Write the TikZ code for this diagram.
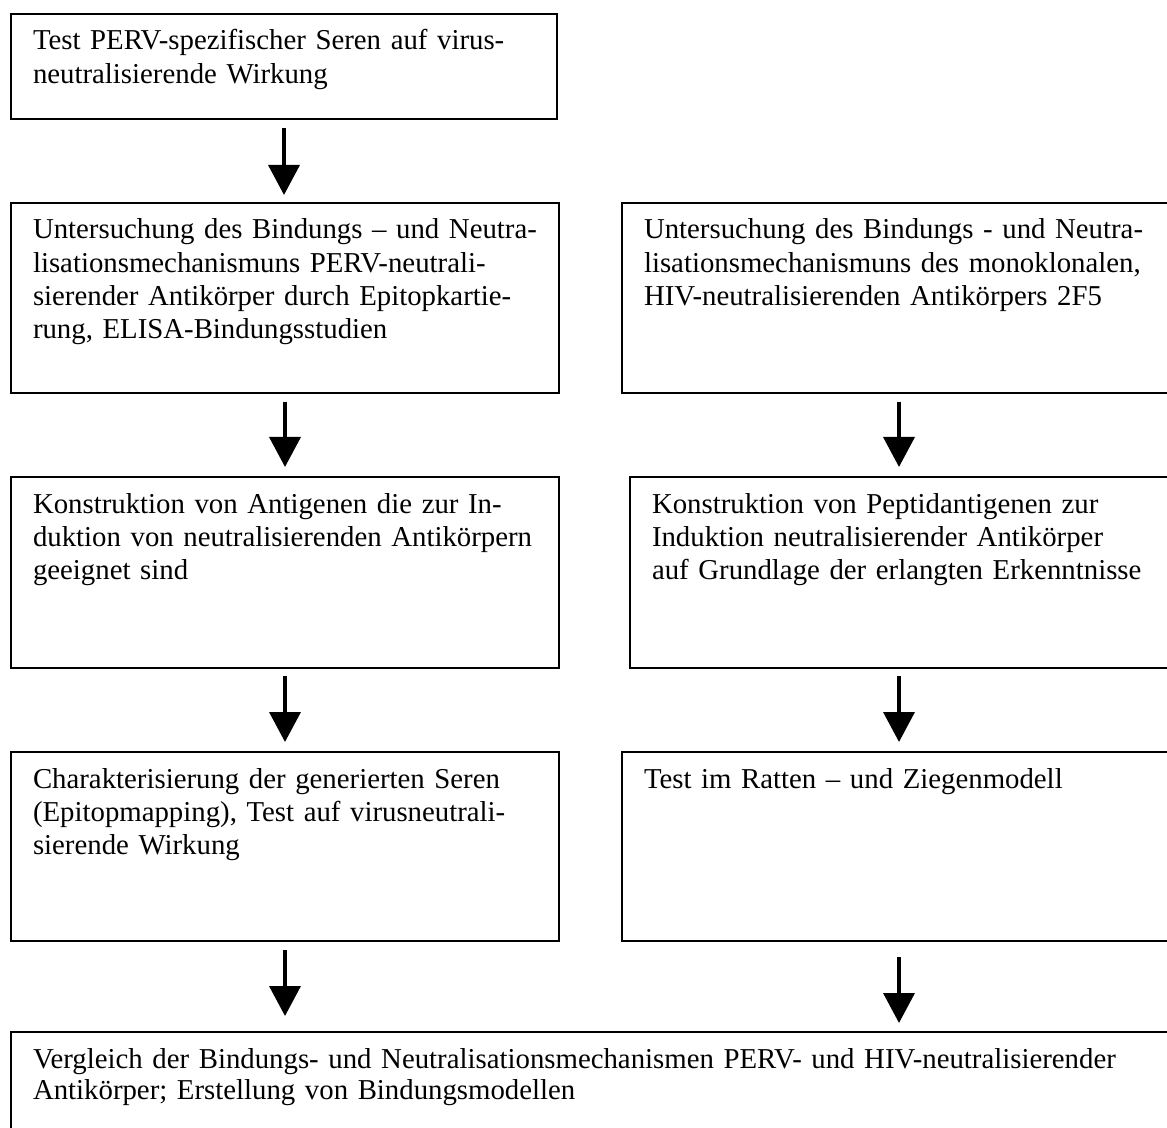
\documentclass[tikz,border=0pt]{standalone}
\usepackage{fontspec}
\setmainfont{Liberation Serif}
\usetikzlibrary{arrows.meta}

\begin{document}
\begin{tikzpicture}[
  x=0.5pt,y=-0.5pt,
  kasten/.style={draw,line width=1pt,anchor=north west,align=left,inner xsep=11pt,inner ysep=0pt,
    text height=18pt,font=\fontsize{14.4pt}{16.6pt}\selectfont},
  pfeil/.style={line width=1.8pt,-{Triangle[length=15pt,width=15.5pt]}}
  ]

  \useasboundingbox (0,0) rectangle (1167,1128);

  \node[kasten,text width=251pt,text depth=34.5pt] (test) at (10,13)
    {Test PERV-spezifischer Seren auf virus-\\neutralisierende Wirkung};

  \node[kasten,text width=252pt,text depth=77pt] (bindperv) at (10,202)
    {Untersuchung des Bindungs -- und Neutra-\\lisationsmechanismuns PERV-neutrali-\\sierender Antikörper durch Epitopkartie-\\rung, ELISA-Bindungsstudien};
  \node[kasten,text width=255pt,text depth=77pt] (bindhiv) at (621,202)
    {Untersuchung des Bindungs - und Neutra-\\lisationsmechanismuns des monoklonalen,\\HIV-neutralisierenden Antikörpers 2F5};

  \node[kasten,text width=252pt,text depth=77.5pt] (antigen) at (10,476)
    {Konstruktion von Antigenen die zur In-\\duktion von neutralisierenden Antikörpern\\geeignet sind};
  \node[kasten,text width=251pt,text depth=77.5pt] (peptid) at (629,476)
    {Konstruktion von Peptidantigenen zur\\Induktion neutralisierender Antikörper\\auf Grundlage der erlangten Erkenntnisse};

  \node[kasten,text width=252pt,text depth=76.5pt] (charakt) at (10,751)
    {Charakterisierung der generierten Seren\\(Epitopmapping), Test auf virusneutrali-\\sierende Wirkung};
  \node[kasten,text width=255pt,text depth=76.5pt] (tiermodell) at (621,751)
    {Test im Ratten -- und Ziegenmodell};

  \node[kasten,text width=560.5pt,text depth=37pt,font=\fontsize{14.4pt}{15.6pt}\selectfont] (vergleich) at (10,1031)
    {Vergleich der Bindungs- und Neutralisationsmechanismen PERV- und HIV-neutralisierender\\Antikörper; Erstellung von Bindungsmodellen};

  % linke Spalte
  \draw[pfeil,shorten <=4pt,shorten >=3.5pt] (test.south) -- (test.south |- bindperv.north);
  \draw[pfeil,shorten <=4pt,shorten >=4.5pt] (bindperv.south) -- (bindperv.south |- antigen.north);
  \draw[pfeil,shorten <=3.5pt,shorten >=4.5pt] (antigen.south) -- (antigen.south |- charakt.north);
  \draw[pfeil,shorten <=4pt,shorten >=7.5pt] (charakt.south) -- (charakt.south |- vergleich.north);

  % rechte Spalte
  \draw[pfeil,shorten <=4pt,shorten >=4.5pt] (bindhiv.south) -- (bindhiv.south |- peptid.north);
  \draw[pfeil,shorten <=3.5pt,shorten >=4.5pt] (tiermodell.north |- peptid.south) -- (tiermodell.north);
  \draw[pfeil,shorten <=7.5pt,shorten >=4pt] (tiermodell.south) -- (tiermodell.south |- vergleich.north);

\end{tikzpicture}
\end{document}
